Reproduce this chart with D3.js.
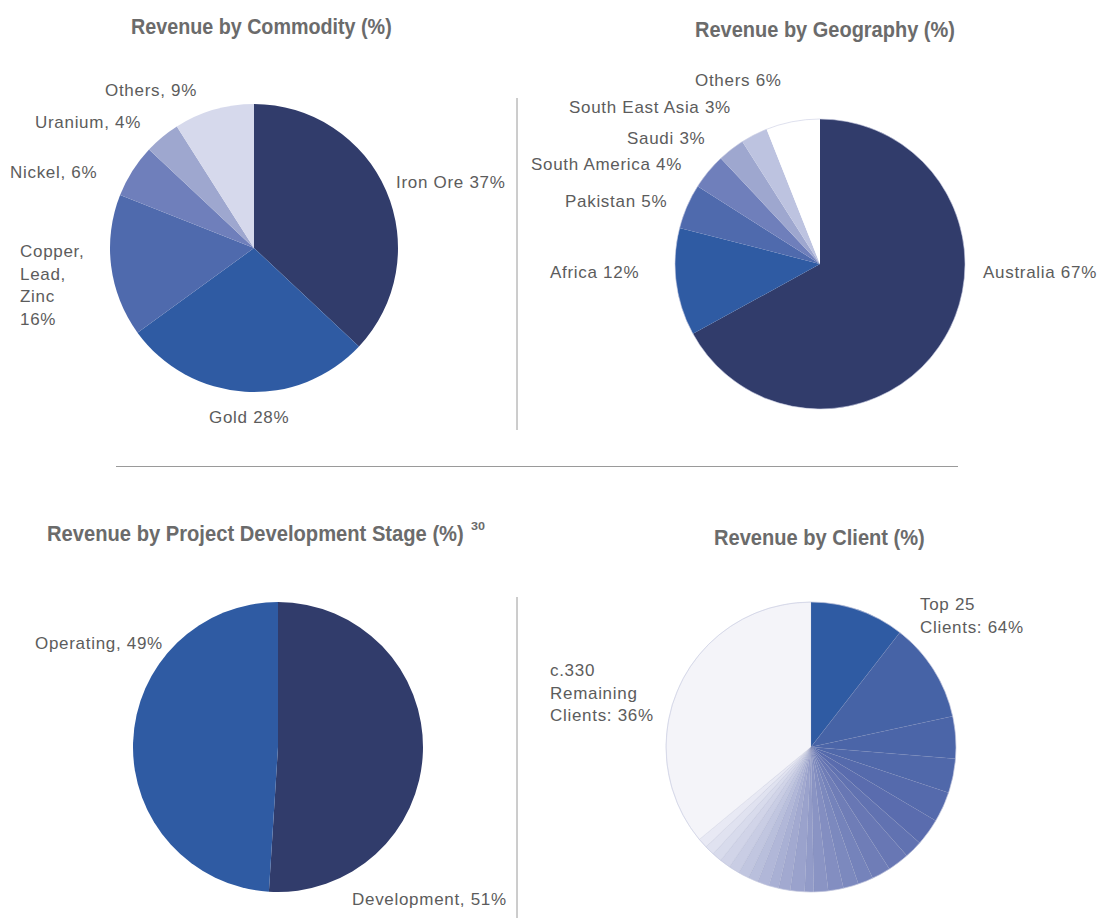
<!DOCTYPE html>
<html><head><meta charset="utf-8">
<script src="https://cdn.jsdelivr.net/npm/d3@7"></script>
<style>
body{margin:0;background:#fff;}
.title{font-family:"Liberation Sans",Arial,Helvetica,sans-serif;font-weight:bold;font-size:22px;fill:#6b6b6b;}
.lbl{font-family:"Liberation Sans",Arial,Helvetica,sans-serif;font-size:17px;letter-spacing:0.7px;fill:#5c5c5c;}
</style></head>
<body>
<svg id="c" width="1099" height="920"></svg>
<script>
// ---- data ----
const commodityCats = ["Iron Ore","Gold","Copper, Lead, Zinc","Nickel","Uranium","Others"];
const commodityVals = [37,28,16,6,4,9];
const geoCats = ["Australia","Africa","Pakistan","South America","Saudi","South East Asia","Others"];
const geoVals = [67,12,5,4,3,3,6];
const stageCats = ["Development","Operating"];
const stageVals = [51,49];
const clientCats = ["Top 25 Clients","c.330 Remaining Clients"];
const top25Vals = [10.5,11.1,4.7,3.8,3.4,3.0,2.0,2.4,2.1,1.7,1.7,1.7,1.6,1.0,1.6,1.3,1.1,1.3,1.1,1.2,1.2,1.2,1.1,1.1,1.1];
const remainingVal = [36];

// palettes
const commodityColors = ["#313c6b","#2f5ba3","#4f6aad","#6f7fbb","#9ea7cf","#d6d9ec"];
const geoColors = ["#313c6b","#2f5ba3","#4f6aad","#6f7fbb","#9ea7cf","#bdc3e0","#ffffff"];
const stageColors = ["#313c6b","#2f5ba3"];

const svg = d3.select("#c");

function drawPie(cx, cy, r, vals, colors, stroke){
  const pie = d3.pie().sort(null).value(d=>d);
  const arc = d3.arc().innerRadius(0).outerRadius(r);
  const g = svg.append("g").attr("transform",`translate(${cx},${cy})`);
  g.selectAll("path").data(pie(vals)).join("path")
    .attr("d",arc)
    .attr("fill",(d,i)=>colors[i])
    .attr("stroke",stroke||"none")
    .attr("stroke-width",stroke?0.4:0);
  return g;
}

// dividers
svg.append("line").attr("x1",517).attr("x2",517).attr("y1",98).attr("y2",430).attr("stroke","#9a9a9a").attr("stroke-width",1);
svg.append("line").attr("x1",116).attr("x2",958).attr("y1",466.5).attr("y2",466.5).attr("stroke","#9a9a9a").attr("stroke-width",1);
svg.append("line").attr("x1",517).attr("x2",517).attr("y1",597).attr("y2",918).attr("stroke","#9a9a9a").attr("stroke-width",1);

// titles (condensed by horizontal scaling)
function title(x,y,w,t,size){
  const el = svg.append("text").attr("class","title").text(t);
  if(size) el.style("font-size",size+"px");
  const nat = el.node().getComputedTextLength();
  el.attr("transform",`translate(${x},${y}) scale(${w/nat},1)`);
  return el;
}
title(131,34,261,"Revenue by Commodity (%)");
title(695,37,260,"Revenue by Geography (%)");
title(47,541,417,"Revenue by Project Development Stage (%)");
title(471,530,14,"30",11);
title(714,545,211,"Revenue by Client (%)");

function lbl(x,y,lines,anchor){
  const t = svg.append("text").attr("class","lbl").attr("x",x).attr("y",y).attr("text-anchor",anchor||"start");
  lines.forEach((s,i)=>t.append("tspan").attr("x",x).attr("dy",i?22.7:0).text(s));
}

// Commodity
drawPie(254,248,144,commodityVals,commodityColors);
lbl(396,188,[commodityCats[0]+" 37%"]);
lbl(209,423,[commodityCats[1]+" 28%"]);
lbl(20,257,["Copper,","Lead,","Zinc","16%"]);
lbl(10,178,[commodityCats[3]+", 6%"]);
lbl(35,128,[commodityCats[4]+", 4%"]);
lbl(105,96,[commodityCats[5]+", 9%"]);

// Geography
const gg = drawPie(820,264,145,geoVals,geoColors);
gg.append("circle").attr("r",145).attr("fill","none").attr("stroke","#c9cce3").attr("stroke-width",0.6);
lbl(983,278,[geoCats[0]+" 67%"]);
lbl(550,278,[geoCats[1]+" 12%"]);
lbl(565,207,[geoCats[2]+" 5%"]);
lbl(531,170,[geoCats[3]+" 4%"]);
lbl(627,144,[geoCats[4]+" 3%"]);
lbl(569,113,[geoCats[5]+" 3%"]);
lbl(695,86,[geoCats[6]+" 6%"]);

// Stage
drawPie(278,747,145,stageVals,stageColors);
lbl(35,649,[stageCats[1]+", 49%"]);
lbl(352,905,[stageCats[0]+", 51%"]);

// Client
const clientVals = top25Vals.concat(remainingVal);
const ramp = d3.scaleLinear()
  .domain([0,1,5,12,24])
  .range(["#2f5ba3","#4663a6","#5a6cae","#8a94c4","#e8e9f4"])
  .interpolate(d3.interpolateRgb);
const clientColors = top25Vals.map((d,i)=>ramp(i)).concat(["#f4f4f9"]);
const cg = drawPie(811,747,145,clientVals,clientColors,"#8a90b8");
cg.selectAll("path").attr("stroke-opacity",0.35);
cg.append("circle").attr("r",145).attr("fill","none").attr("stroke","#c9cce3").attr("stroke-width",0.6);
lbl(920,610,["Top 25","Clients: 64%"]);
lbl(550,676,["c.330","Remaining","Clients: 36%"]);
</script>
</body></html>
